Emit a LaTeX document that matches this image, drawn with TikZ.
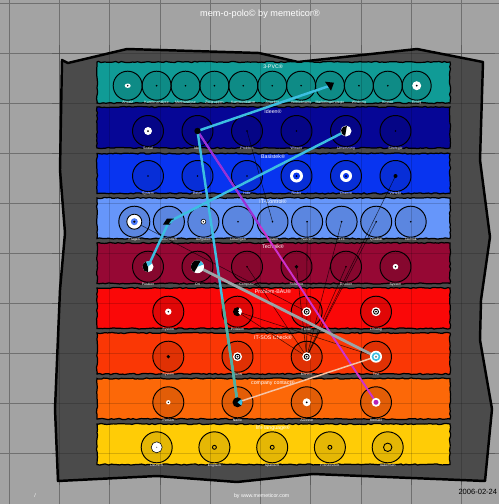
\documentclass[tikz,border=0pt]{standalone}
\usepackage{fontspec}
\setmainfont{Liberation Sans}
\usetikzlibrary{decorations.pathmorphing, calc}

\definecolor{bggray}{RGB}{163,163,163}
\definecolor{gridgray}{RGB}{112,112,112}
\definecolor{panelgray}{RGB}{75,75,75}
\definecolor{pvcteal}{RGB}{16,155,150}
\definecolor{ideenavy}{RGB}{6,6,150}
\definecolor{basisblue}{RGB}{8,52,240}
\definecolor{itcsky}{RGB}{102,150,250}
\definecolor{techwine}{RGB}{150,8,52}
\definecolor{probred}{RGB}{250,8,8}
\definecolor{sosflame}{RGB}{250,55,5}
\definecolor{kontaktorange}{RGB}{252,104,8}
\definecolor{sprachegold}{RGB}{255,204,6}
\definecolor{cyanline}{RGB}{60,190,225}
\definecolor{tealline}{RGB}{80,175,160}
\definecolor{magline}{RGB}{205,50,205}
\definecolor{purpleline}{RGB}{150,50,215}
\definecolor{greyline}{RGB}{155,165,168}
\definecolor{peachline}{RGB}{245,195,165}

\begin{document}
\begin{tikzpicture}[
        x=0.02cm, y=-0.02cm,
        gridline/.style={draw=gridgray, line width=0.5pt},
        gridover/.style={draw=black, opacity=0.16, line width=0.5pt},
        band/.style={draw=black, line width=0.7pt, decorate, decoration={random steps, segment length=1.6pt, amplitude=0.35pt}},
        ring/.style={circle, draw=black, line width=0.55pt, fill=black, fill opacity=0.1, minimum size=0.62cm, inner sep=0pt, label distance=-2.8pt},
        small/.style={minimum size=0.58cm},
        title/.style={text=white, font=\fontsize{3}{3.6}\selectfont, inner sep=0pt},
        lbl/.style={text=white, font=\fontsize{2}{2.4}\selectfont, inner sep=0pt},
        faint/.style={draw=black, line width=0.3pt, opacity=0.7},
        cyanlink/.style={draw=cyanline, line width=1.4pt},
        maglink/.style={draw=magline, line width=1.1pt},
        greylink/.style={draw=greyline, line width=1.6pt},
        peachlink/.style={draw=peachline, line width=0.85pt}
    ]

    \useasboundingbox (0,0) rectangle (499,504);
    \clip (0,0) rectangle (499,504);

    % Background and grid
    \fill[bggray] (0,0) rectangle (499,504);
    \foreach \k in {0,...,9} \draw[gridline] ({9.3+50.25*\k},0) -- ({9.3+50.25*\k},504);
    \foreach \k in {0,...,10} \draw[gridline] (0,{3+50.1*\k}) -- (499,{3+50.1*\k});

    % Panel
    \draw[fill=panelgray, line width=1.4pt, line join=round]
        (62,60) -- (68,63) -- (127,49) -- (259,53) -- (298,62) -- (417,49) -- (483,62)
        -- (480,160) -- (490,237) -- (481,300) -- (480,340) -- (492,409) -- (485,481)
        -- (313,474) -- (237,482) -- (157,476) -- (58,481)
        -- (55,409) -- (58,337) -- (60,290) -- (65,233) -- (60,170) -- cycle;

    % Bands
    \pgfmathsetseed{11}
    \draw[band, fill=pvcteal] (97,62) rectangle (450,103);
    \draw[band, fill=ideenavy] (97,107) rectangle (450,148);
    \draw[band, fill=basisblue] (97,153.5) rectangle (450,193.5);
    \draw[band, fill=itcsky] (97,198) rectangle (450,238.5);
    \draw[band, fill=techwine] (97,243) rectangle (450,283.5);
    \draw[band, fill=probred] (97,288) rectangle (450,328.5);
    \draw[band, fill=sosflame] (97,333) rectangle (450,374);
    \draw[band, fill=kontaktorange] (97,378.5) rectangle (450,419);
    \draw[band, fill=sprachegold] (97,424) rectangle (450,464.5);

    % 3-PVC
    \node[title] (pvc) at (273,66.5) {3-PVC®};
    \node[ring, small, label={[lbl]below:Ansatz}] (pvc_1) at (127.7,85.7) {};
    \node[ring, small, label={[lbl]below:Kundenanalyse}] (pvc_2) at (156.6,85.7) {};
    \node[ring, small, label={[lbl]below:Marktanalyse}] (pvc_3) at (185.5,85.7) {};
    \node[ring, small, label={[lbl]below:Zielgruppen}] (pvc_4) at (214.4,85.7) {};
    \node[ring, small, label={[lbl]below:Kommunikation}] (pvc_5) at (243.3,85.7) {};
    \node[ring, small, label={[lbl]below:Angebot}] (pvc_6) at (272.2,85.7) {};
    \node[ring, small, label={[lbl]below:Vertriebsweg}] (pvc_7) at (301.1,85.7) {};
    \node[ring, small, label={[lbl]below:Marketingstrategie}] (pvc_8) at (330,85.7) {};
    \node[ring, small, label={[lbl]below:Werbung}] (pvc_9) at (358.9,85.7) {};
    \node[ring, small, label={[lbl]below:Kosten}] (pvc_10) at (387.8,85.7) {};
    \node[ring, small, label={[lbl]below:Erfolg}] (pvc_11) at (416.7,85.7) {};

    % Ideen
    \node[title] (idee) at (273,111.7) {Ideen®};
    \node[ring, label={[lbl]below:Sozial}] (idee_1) at (148,131) {};
    \node[ring, label={[lbl]below:Idee}] (idee_2) at (197.5,131) {};
    \node[ring, label={[lbl]below:Problem}] (idee_3) at (247,131) {};
    \node[ring, label={[lbl]below:Wissen}] (idee_4) at (296.5,131) {};
    \node[ring, label={[lbl]below:Umsetzung}] (idee_5) at (346,131) {};
    \node[ring, label={[lbl]below:Strategie}] (idee_6) at (395.5,131) {};

    % Basistek
    \node[title] (basis) at (273,157) {Basistek®};
    \node[ring, label={[lbl]below:System}] (basis_1) at (148,176) {};
    \node[ring, label={[lbl]below:Daten}] (basis_2) at (197.5,176) {};
    \node[ring, label={[lbl]below:Hilfe}] (basis_3) at (247,176) {};
    \node[ring, label={[lbl]below:Risiko}] (basis_4) at (296.5,176) {};
    \node[ring, label={[lbl]below:Chance}] (basis_5) at (346,176) {};
    \node[ring, label={[lbl]below:Vorteile}] (basis_6) at (395.5,176) {};

    % IT-Control
    \node[title] (itc) at (273,202) {IT-Control®};
    \node[ring, label={[lbl]below:Fragen}] (itc_1) at (134.3,221.7) {};
    \node[ring, label={[lbl]below:Antworten}] (itc_2) at (168.9,221.7) {};
    \node[ring, label={[lbl]below:Aufgaben}] (itc_3) at (203.4,221.7) {};
    \node[ring, label={[lbl]below:Lösungen}] (itc_4) at (238,221.7) {};
    \node[ring, label={[lbl]below:Kosten}] (itc_5) at (272.5,221.7) {};
    \node[ring, label={[lbl]below:Nutzen}] (itc_6) at (307.1,221.7) {};
    \node[ring, label={[lbl]below:Zeit}] (itc_7) at (341.6,221.7) {};
    \node[ring, label={[lbl]below:Qualität}] (itc_8) at (376.2,221.7) {};
    \node[ring, label={[lbl]below:Technik}] (itc_9) at (410.7,221.7) {};

    % Technik
    \node[title] (tech) at (273,247) {Technik®};
    \node[ring, label={[lbl]below:Position}] (tech_1) at (148,266.7) {};
    \node[ring, label={[lbl]below:Ort}] (tech_2) at (197.5,266.7) {};
    \node[ring, label={[lbl]below:Computer}] (tech_3) at (247,266.7) {};
    \node[ring, label={[lbl]below:Software}] (tech_4) at (296.5,266.7) {};
    \node[ring, label={[lbl]below:Drucker}] (tech_5) at (346,266.7) {};
    \node[ring, label={[lbl]below:System}] (tech_6) at (395.5,266.7) {};

    % Problem-BAU
    \node[title] (prob) at (273,292) {Problem-BAU®};
    \node[ring, label={[lbl]below:System}] (prob_1) at (168.3,311.7) {};
    \node[ring, label={[lbl]below:Problem}] (prob_2) at (237.5,311.7) {};
    \node[ring, label={[lbl]below:Fehler}] (prob_3) at (306.7,311.7) {};
    \node[ring, label={[lbl]below:Lösung}] (prob_4) at (376,311.7) {};

    % IT-SOS Check
    \node[title] (sos) at (273,337.5) {IT-SOS Check®};
    \node[ring, label={[lbl]below:System}] (sos_1) at (168.3,356.7) {};
    \node[ring, label={[lbl]below:Status}] (sos_2) at (237.5,356.7) {};
    \node[ring, label={[lbl]below:Monitor}] (sos_3) at (306.7,356.7) {};
    \node[ring, label={[lbl]below:Test}] (sos_4) at (376,356.7) {};

    % company contact
    \node[title] (kontakt) at (273,383) {company contact®};
    \node[ring, label={[lbl]below:Person}] (kontakt_1) at (168.3,402.3) {};
    \node[ring, label={[lbl]below:Name}] (kontakt_2) at (237.5,402.3) {};
    \node[ring, label={[lbl]below:Adresse}] (kontakt_3) at (306.7,402.3) {};
    \node[ring, label={[lbl]below:Kontakt}] (kontakt_4) at (376,402.3) {};

    % life language
    \node[title] (sprache) at (273,428) {life language®};
    \node[ring, label={[lbl]below:Deutsch}] (sprache_1) at (156.7,447.3) {};
    \node[ring, label={[lbl]below:Englisch}] (sprache_2) at (214.4,447.3) {};
    \node[ring, label={[lbl]below:Spanisch}] (sprache_3) at (272.2,447.3) {};
    \node[ring, label={[lbl]below:Französisch}] (sprache_4) at (329.9,447.3) {};
    \node[ring, label={[lbl]below:Italienisch}] (sprache_5) at (387.7,447.3) {};

    % grid seen through the bands
    \foreach \k in {1,...,9} \draw[gridover] ({9.3+50.25*\k},45) -- ({9.3+50.25*\k},485);
    \foreach \k in {1,...,9} \draw[gridover] (52,{3+50.1*\k}) -- (495,{3+50.1*\k});

    % thin links
    \draw[faint] (itc_1.center) -- (prob_3.center);
    \draw[faint] (idee_3.center) -- (itc_5.center);
    \draw[faint] (basis_6.center) -- (sos_3.center);
    \draw[faint] (itc_6.center) -- (sos_3.center);
    \draw[faint] (itc_7.center) -- (sos_3.center);
    \draw[faint] (itc_8.center) -- (sos_3.center);
    \draw[faint] (tech_3.center) -- (sos_3.center);
    \draw[faint] (tech_4.center) -- (sos_3.center);
    \draw[faint] (tech_5.center) -- (sos_3.center);
    \draw[faint] (prob_2.center) -- (sos_3.center);
    \draw[faint] (prob_2.center) -- (sos_4.center);

    % thick links
    \draw[maglink] (idee_2.center) -- (kontakt_4.center);
    \draw[maglink, draw=purpleline] (idee_2.center) -- ($(idee_2.center)!0.35!(kontakt_4.center)$);
    \draw[cyanlink] (idee_2.center) -- (pvc_8.center);
    \draw[cyanlink] (idee_2.center) -- (kontakt_2.center);
    \draw[cyanlink, draw=tealline] ($(idee_2.center)!0.62!(kontakt_2.center)$) -- (kontakt_2.center);
    \draw[cyanlink] (idee_5.center) -- (itc_2.center);
    \draw[cyanlink] (itc_2.center) -- (tech_1.center);
    \draw[greylink] (tech_2.center) -- (sos_4.center);
    \draw[peachlink] (kontakt_2.center) -- (sos_4.center);

    % markers
    \foreach \n in {pvc_2,pvc_3,pvc_4,pvc_5,pvc_6,pvc_7,pvc_9,pvc_10,idee_3,idee_4,idee_6,
        basis_1,basis_2,basis_3,itc_4,itc_5,itc_6,itc_7,itc_8,itc_9,tech_3,tech_5}
        \fill (\n.center) circle (0.9);
    \fill[white] (pvc_1.center) ellipse (3 and 2.2);
    \fill (pvc_1.center) circle (0.8);
    \fill (pvc_8.center) ++(-5,-4) -- ++(9,1) -- ++(-3,8) -- cycle;
    \fill[white] (pvc_11.center) circle (4.5);
    \fill (pvc_11.center) circle (1);
    \fill[white] (idee_1.center) circle (4);
    \fill (idee_1.center) circle (1);
    \fill (idee_2.center) circle (3.2);
    \fill[white] (idee_5.center) circle (5.5);
    \fill (idee_5.center) -- ++(100:5) arc[start angle=100, end angle=280, radius=5] -- cycle;
    \fill[white] (basis_4.center) circle (6.5);
    \fill[basisblue] (basis_4.center) circle (3.5);
    \fill (basis_4.center) circle (1);
    \fill[white] (basis_5.center) circle (6);
    \fill[basisblue] (basis_5.center) circle (3);
    \fill (basis_5.center) circle (1);
    \fill (basis_6.center) circle (2);
    \filldraw[fill=white, draw=black, line width=0.5pt] (itc_1.center) circle (7.5);
    \fill[itcsky!70!basisblue] (itc_1.center) circle (3.5);
    \fill (itc_1.center) circle (1.2);
    \fill (itc_2.center) ++(-6,3) -- ++(4,-6) -- ++(7,0) -- ++(-4,6) -- cycle;
    \fill[cyanline] (itc_2.center) ++(0,2) -- ++(3,-4) -- ++(2,0) -- ++(-3,4) -- cycle;
    \filldraw[fill=white, draw=black, line width=0.3pt] (itc_3.center) circle (2.5);
    \fill (itc_3.center) circle (0.8);
    \fill[white] (tech_1.center) circle (5.5);
    \fill (tech_1.center) -- ++(90:5.5) arc[start angle=90, end angle=250, radius=5.5] -- cycle;
    \fill[cyanline] (tech_1.center) -- ++(250:5.5) arc[start angle=250, end angle=320, radius=5.5] -- cycle;
    \fill[white] (tech_2.center) circle (6.5);
    \fill (tech_2.center) -- ++(120:6.5) arc[start angle=120, end angle=300, radius=6.5] -- cycle;
    \fill[cyanline] (tech_2.center) -- ++(300:6.5) arc[start angle=300, end angle=340, radius=6.5] -- cycle;
    \fill (tech_4.center) circle (1.8);
    \fill[white] (tech_6.center) circle (2.8);
    \fill (tech_6.center) circle (0.8);
    \fill[white] (prob_1.center) circle (3.2);
    \fill (prob_1.center) circle (0.8);
    \fill (prob_2.center) circle (4.5);
    \fill[white] (prob_2.center) -- ++(-60:4.5) arc[start angle=-60, end angle=50, radius=4.5] -- cycle;
    \fill (prob_2.center) circle (1.5);
    \foreach \n in {prob_3,prob_4,sos_2,sos_3} {
        \fill[white] (\n.center) circle (4.5);
        \draw[line width=0.5pt] (\n.center) circle (2.5);
        \fill (\n.center) circle (1);
    }
    \fill (sos_1.center) circle (1.8);
    \fill[white] (sos_4.center) circle (6);
    \draw[cyanline, line width=0.9pt] (sos_4.center) circle (3.5);
    \fill[gray] (sos_4.center) circle (1.2);
    \fill[white] (kontakt_1.center) circle (2.2);
    \fill (kontakt_1.center) circle (0.7);
    \fill (kontakt_2.center) circle (5);
    \fill[cyanline] (kontakt_2.center) -- ++(-40:5) arc[start angle=-40, end angle=40, radius=5] -- cycle;
    \fill[white] (kontakt_3.center) circle (4);
    \fill (kontakt_3.center) circle (1);
    \fill[white] (kontakt_4.center) circle (4.5);
    \fill[magline!70!violet] (kontakt_4.center) circle (2.5);
    \filldraw[fill=white, draw=black, line width=0.3pt] (sprache_1.center) circle (5.5);
    \fill[gray] (sprache_1.center) circle (0.7);
    \foreach \n in {sprache_2,sprache_3,sprache_4}
        \draw[line width=0.5pt] (\n.center) circle (2);
    \draw[line width=0.5pt] (sprache_5.center) circle (4.2);

    % Texts
    \node[text=white, font=\fontsize{5.2}{6}\selectfont, inner sep=0pt] (heading) at (260,14) {mem-o-polo© by memeticor®};
    \node[text=white, font=\fontsize{3}{3.6}\selectfont, inner sep=0pt] (web) at (261.7,496) {by www.memeticor.com};
    \node[text=white, font=\fontsize{3}{3.6}\selectfont, inner sep=0pt] (slash) at (35,495.7) {/};
    \node[anchor=east, font=\fontsize{4.3}{5}\selectfont, inner sep=0pt] (datum) at (497.5,491.5) {2006-02-24};

\end{tikzpicture}
\end{document}
